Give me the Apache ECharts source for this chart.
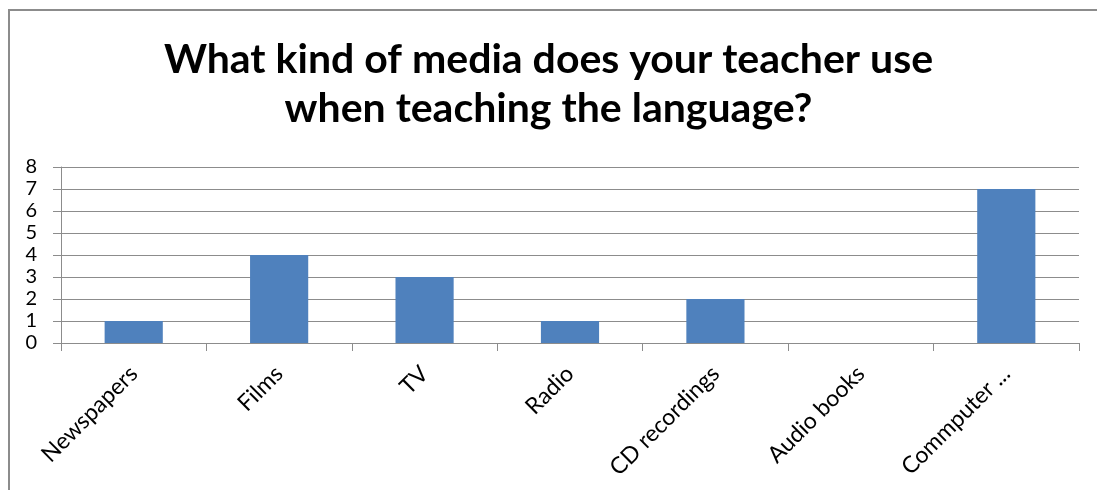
<!DOCTYPE html>
<html>
<head>
<meta charset="utf-8">
<script src="https://cdn.jsdelivr.net/npm/echarts@6/dist/echarts.min.js"></script>
<style>
  html, body { margin: 0; padding: 0; background: #fff; }
  #frame { position: absolute; left: 8px; top: 9px; width: 1089px; height: 481px;
           border-left: 2px solid #8c8c8c; border-top: 2px solid #8c8c8c; }
  #chart { position: absolute; left: 0; top: 0; width: 1097px; height: 490px; }
</style>
</head>
<body>
<div id="frame"></div>
<div id="chart"></div>
<script>
const titleLines = ['What kind of media does your teacher use', 'when teaching the language?'];
const categories = ['Newspapers', 'Films', 'TV', 'Radio', 'CD recordings', 'Audio books', 'Commputer ...'];
const counts = [1, 4, 3, 1, 2, 0, 7];
const yMin = 0, yMax = 8, yStep = 1;

const chart = echarts.init(document.getElementById('chart'), null, { renderer: 'canvas' });
chart.setOption({
  animation: false,
  backgroundColor: 'transparent',
  title: {
    text: titleLines.join('\n'),
    left: 'center',
    top: 30,
    textStyle: {
      fontFamily: 'Lato',
      fontWeight: 'bold',
      fontSize: 41,
      lineHeight: 49,
      color: '#000'
    }
  },
  grid: { left: 61, right: 18, top: 167, bottom: 147, containLabel: false },
  xAxis: {
    type: 'category',
    data: categories,
    axisLine: { lineStyle: { color: '#8c8c8c', width: 1 } },
    axisTick: { show: true, alignWithLabel: false, length: 8, lineStyle: { color: '#8c8c8c' } },
    axisLabel: {
      interval: 0,
      rotate: 45,
      margin: 27,
      fontFamily: 'Lato',
      fontSize: 23,
      color: '#000'
    }
  },
  yAxis: {
    type: 'value',
    min: yMin,
    max: yMax,
    interval: yStep,
    axisLine: { show: true, lineStyle: { color: '#8c8c8c', width: 1 } },
    axisTick: { show: true, length: 8, lineStyle: { color: '#8c8c8c' } },
    axisLabel: { margin: 24, fontFamily: 'Lato', fontSize: 20, color: '#000' },
    splitLine: { show: true, lineStyle: { color: '#8c8c8c', width: 1 } }
  },
  series: [{
    type: 'bar',
    data: counts,
    barWidth: '40%',
    itemStyle: { color: '#4f81bd' }
  }]
});
</script>
</body>
</html>
